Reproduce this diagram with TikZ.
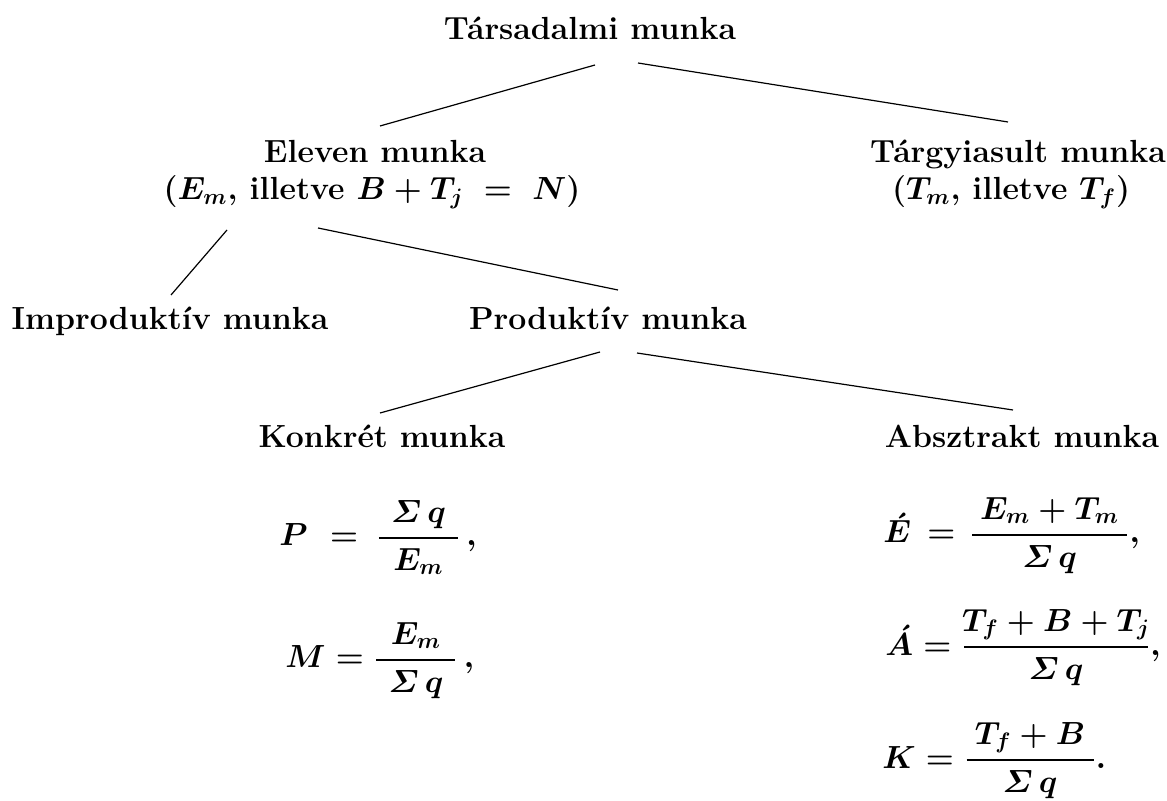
\RequirePackage{fix-cm}
\documentclass[tikz,border=0pt]{standalone}
\usepackage{amsmath}
\usepackage{fontspec}
\usepackage{tikz}
\usetikzlibrary{calc}

\newcommand{\lblfont}{\fontsize{16}{19}\selectfont\bfseries\boldmath}
\newcommand{\barfrac}[3]{\dfrac{\makebox[#1]{$#2$}}{\makebox[#1]{$#3$}}}

\begin{document}
\begin{tikzpicture}[
    x=0.5pt, y=-0.5pt,
    lbl/.style={inner sep=0pt, anchor=base, font=\lblfont},
    fml/.style={inner sep=0pt, anchor=base west, font=\lblfont},
    branch/.style={line width=0.6pt}
]
    \useasboundingbox (0,0) rectangle (1167,801);
    % munkafajtak
    \node[lbl] (tars) at (590,40) {Társadalmi munka};
    \node[lbl] (eleven) at (375,163) {Eleven munka};
    \node[lbl] (eleven-def) at (372,200) {$(E_m$, illetve $B + T_j \;=\; N)$};
    \node[lbl] (targy) at (1018,163) {Tárgyiasult munka};
    \node[lbl] (targy-def) at (1011,200) {$(T_m$, illetve $T_f)$};
    \node[lbl] (improd) at (170,330) {Improduktív munka};
    \node[lbl] (prod) at (608,330) {Produktív munka};
    \node[lbl] (konk) at (382,448) {Konkrét munka};
    \node[lbl] (abszt) at (1022,448) {Absztrakt munka};
    % mutatok
    \node[fml] (p) at (279,546) {$P\mkern6mu=\mkern4mu\barfrac{39.5pt}{\varSigma\,q}{E_m}\,,$};
    \node[fml] (m) at (285,668) {$M=\barfrac{39.5pt}{E_m}{\varSigma\,q}\,,$};
    \node[fml] (e) at (883,543) {$\acute{E}\mkern3mu=\mkern2mu\barfrac{77.5pt}{E_m + T_m}{\varSigma\,q},$};
    \node[fml] (a) at (885,655) {$\acute{A}=\barfrac{92pt}{T_f + B + T_j}{\varSigma\,q},$};
    \node[fml] (k) at (882,768) {$K=\barfrac{63.5pt}{T_f + B}{\varSigma\,q}.$};
    % agak
    \draw[branch] ($(tars.base)+(5,25)$) -- ($(eleven.base)+(5,-37)$);
    \draw[branch] ($(tars.base)+(48,23)$) -- ($(targy.base)+(-10,-41)$);
    \draw[branch] ($(eleven-def.base)+(-145,30)$) -- ($(improd.base)+(1,-35)$);
    \draw[branch] ($(eleven-def.base)+(-54,28)$) -- ($(prod.base)+(10,-40)$);
    \draw[branch] ($(prod.base)+(-8,22)$) -- ($(konk.base)+(-2,-35)$);
    \draw[branch] ($(prod.base)+(29,23)$) -- ($(abszt.base)+(-9,-38)$);
\end{tikzpicture}
\end{document}
